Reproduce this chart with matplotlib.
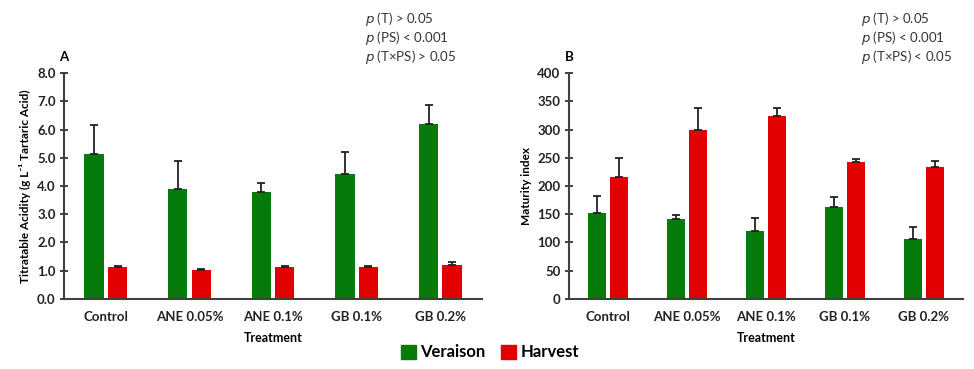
import numpy as np
import matplotlib.pyplot as plt
from matplotlib.patches import Patch

plt.rcParams['font.family'] = ['Lato', 'DejaVu Sans']

treatments = ['Control', 'ANE 0.05%', 'ANE 0.1%', 'GB 0.1%', 'GB 0.2%']

# titratable acidity (g/L tartaric acid) and upper SE
ta_veraison = [5.15, 3.90, 3.80, 4.42, 6.20]
ta_veraison_err = [1.02, 0.98, 0.30, 0.78, 0.68]
ta_harvest = [1.13, 1.04, 1.13, 1.13, 1.20]
ta_harvest_err = [0.03, 0.03, 0.05, 0.05, 0.10]

# maturity index and upper SE
mi_veraison = [153, 142, 120, 163, 106]
mi_veraison_err = [30, 6, 23, 18, 21]
mi_harvest = [216, 300, 324, 242, 233]
mi_harvest_err = [33, 38, 14, 6, 11]

green = '#067A0A'
red = '#E20000'
axcol = '#404040'

fig = plt.figure(figsize=(9.74, 3.69), dpi=100)
axA = fig.add_axes([0.0657, 0.19, 0.4293, 0.612])
axB = fig.add_axes([0.584, 0.19, 0.405, 0.612])


def draw_panel(ax, ver, ver_err, har, har_err, ymax, step, fmt, ylabel, letter, plines, px):
    x = np.arange(len(treatments))
    w = 0.23
    off = 0.14
    ekw = dict(ecolor='#222222', elinewidth=1.3, capsize=3, capthick=1.3)
    ax.bar(x - off, ver, w, color=green, yerr=[np.zeros(len(ver)), ver_err],
           error_kw=ekw, zorder=2)
    ax.bar(x + off, har, w, color=red, yerr=[np.zeros(len(har)), har_err],
           error_kw=ekw, zorder=2)
    ax.set_xlim(-0.5, len(treatments) - 0.5)
    ax.set_ylim(0, ymax)
    ticks = np.arange(0, ymax + step / 2, step)
    ax.set_yticks(ticks)
    ax.set_yticklabels([fmt.format(t) for t in ticks], fontsize=9.5,
                       fontweight='bold', color='#222222')
    ax.set_xticks(x)
    ax.set_xticklabels(treatments, fontsize=9.5, fontweight='bold', color='#222222')
    ax.tick_params(axis='x', length=0, pad=9)
    ax.tick_params(axis='y', direction='inout', length=6, width=1.4, color=axcol, pad=3)
    for s in ['top', 'right']:
        ax.spines[s].set_visible(False)
    for s in ['left', 'bottom']:
        ax.spines[s].set_color(axcol)
        ax.spines[s].set_linewidth(1.5)
    ax.set_xlabel('Treatment', fontsize=9, fontweight='bold', labelpad=6)
    ax.set_ylabel(ylabel, fontsize=8.5, fontweight='bold', labelpad=4)
    ax.text(0.0, 1.045, letter, transform=ax.transAxes, fontsize=9.5,
            fontweight='bold', ha='center', va='bottom')
    for yy, line in zip([1.239, 1.155, 1.071], plines):
        ax.text(px, yy, line, transform=ax.transAxes, fontsize=9.5,
                color='#333333', va='center', ha='left')


draw_panel(axA, ta_veraison, ta_veraison_err, ta_harvest, ta_harvest_err,
           8.0, 1.0, '{:.1f}', 'Titratable Acidity (g L⁻¹ Tartaric Acid)', 'A',
           ['$p$ (T) > 0.05', '$p$ (PS) < 0.001', '$p$ (T×PS) > 0.05'], 0.72)
draw_panel(axB, mi_veraison, mi_veraison_err, mi_harvest, mi_harvest_err,
           400, 50, '{:.0f}', 'Maturity index', 'B',
           ['$p$ (T) > 0.05', '$p$ (PS) < 0.001', '$p$ (T×PS) < 0.05'], 0.741)

handles = [Patch(color=green, label='Veraison'), Patch(color=red, label='Harvest')]
fig.legend(handles=handles, loc='center', bbox_to_anchor=(0.503, 0.045), ncol=2,
           frameon=False, prop={'size': 12, 'weight': 'bold'},
           handlelength=0.9, handleheight=0.9, handletextpad=0.3, columnspacing=0.9)

fig.savefig('out.png', dpi=100)
